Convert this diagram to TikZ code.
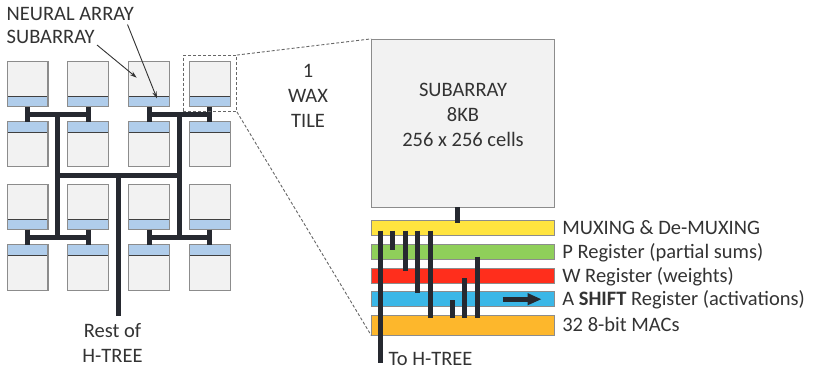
\documentclass[tikz,border=0pt]{standalone}
\usepackage{fontspec}
\setmainfont{Carlito}
\usetikzlibrary{arrows.meta}
\definecolor{tilefill}{HTML}{F2F2F2}
\definecolor{tileedge}{HTML}{8C8C8C}
\definecolor{bandfill}{HTML}{B0CDEB}
\definecolor{wire}{HTML}{262930}
\definecolor{txt}{HTML}{333333}
\definecolor{cmux}{HTML}{FFE43F}
\definecolor{cpreg}{HTML}{8FCF5A}
\definecolor{cwreg}{HTML}{FF2E1C}
\definecolor{careg}{HTML}{3BB7E7}
\definecolor{cmac}{HTML}{FDB72C}
\begin{document}
\begin{tikzpicture}[x=1pt,y=-1pt,
  every node/.style={text=txt},
  lbl/.style={font=\fontsize{20.5}{25}\selectfont, inner sep=0pt},
  tile/.style={fill=tilefill, minimum width=40.5pt, minimum height=45pt, inner sep=0pt},
  tileb/.style={draw=tileedge, line width=1.1pt},
  sepline/.style={draw=black!75, line width=0.9pt},
  htree/.style={draw=wire, line width=5pt},
  regwire/.style={draw=wire, line width=5pt},
  bar/.style={draw=tileedge, line width=0.9pt, minimum width=182.6pt, inner sep=0pt},
  dashbox/.style={draw=black!60, dash pattern=on 3pt off 2pt, line width=0.9pt, inner sep=0pt},
  pointer/.style={draw=black!80, line width=0.9pt, -{Stealth[length=7pt,width=4.5pt]}}
]
\useasboundingbox (0,0) rectangle (814,370);

% ---------- left grid of tiles ----------
\foreach \c/\x in {1/27.55,2/88.25,3/149.25,4/209.75}{
  % rows with band at the bottom
  \foreach \r/\y in {1/84.2,3/207}{
    \node[tile] (t\r\c) at (\x,\y) {};
    \fill[bandfill] (t\r\c.south west) rectangle ([yshift=10.5pt]t\r\c.south east);
    \draw[sepline] ([yshift=10.5pt]t\r\c.south west) -- ([yshift=10.5pt]t\r\c.south east);
    \draw[tileb] (t\r\c.south west) rectangle (t\r\c.north east);
  }
  % rows with band at the top
  \foreach \r/\y in {2/144.2,4/267.5}{
    \node[tile] (t\r\c) at (\x,\y) {};
    \fill[bandfill] (t\r\c.north west) rectangle ([yshift=-10.5pt]t\r\c.north east);
    \draw[sepline] ([yshift=-10.5pt]t\r\c.north west) -- ([yshift=-10.5pt]t\r\c.north east);
    \draw[tileb] (t\r\c.south west) rectangle (t\r\c.north east);
  }
}

% ---------- H-tree ----------
\draw[htree] (t11.south) -- coordinate (a1) (t21.north);
\draw[htree] (t12.south) -- coordinate (a2) (t22.north);
\draw[htree] (t13.south) -- coordinate (a3) (t23.north);
\draw[htree] (t14.south) -- coordinate (a4) (t24.north);
\draw[htree] (t31.south) -- coordinate (b1) (t41.north);
\draw[htree] (t32.south) -- coordinate (b2) (t42.north);
\draw[htree] (t33.south) -- coordinate (b3) (t43.north);
\draw[htree] (t34.south) -- coordinate (b4) (t44.north);
\draw[htree] (a1) -- coordinate (j1) (a2);
\draw[htree] (a3) -- coordinate (j2) (a4);
\draw[htree] (b1) -- coordinate (k1) (b2);
\draw[htree] (b3) -- coordinate (k2) (b4);
\path (t22.south) -- coordinate (m) (t32.north);
\draw[htree] (j1) -- (j1 |- k1);
\draw[htree] (j2) -- (j2 |- k2);
\draw[htree] (j1 |- m) -- coordinate (c) (j2 |- m);
\coordinate (rest) at (118.5,316);
\draw[htree] (c) -- (c |- rest);

% ---------- labels on the left ----------
\node[lbl, anchor=base west] (lab1) at (6.5,20.7) {NEURAL ARRAY};
\node[lbl, anchor=base west] (lab2) at (6.5,43.3) {SUBARRAY};
\coordinate (p1) at (127.5,24.5);
\coordinate (p2) at (97,45);
\draw[pointer] (p1) -- (157,98.5);
\draw[pointer] (p2) -- (136.7,77.7);
\node[lbl, align=center] (rest-lbl) at (112.5,343) {Rest of\\H-TREE};

% ---------- WAX tile marker ----------
\node[dashbox, minimum width=53.5pt, minimum height=56pt] (wax) at (209.75,83.5) {};
\node[lbl, align=center] (waxlbl) at (308,96.2) {1\\WAX\\TILE};

% ---------- zoomed subarray ----------
\node[bar, fill=tilefill, minimum height=168pt] (sub) at (463,123.3) {};
\node[lbl, align=center] (subtxt) at (463,114.5) {SUBARRAY\\8KB\\256 x 256 cells};

\node[bar, fill=cmux,  minimum height=14.3pt] (mux)  at (463,227.85) {};
\node[bar, fill=cpreg, minimum height=15.3pt] (preg) at (463,251.65) {};
\node[bar, fill=cwreg, minimum height=15pt]   (wreg) at (463,275.8) {};
\node[bar, fill=careg, minimum height=15pt]   (areg) at (463,299.2) {};
\node[bar, fill=cmac,  minimum height=20pt]   (mac)  at (463,325) {};

\draw[dashbox] (wax.north east) -- (sub.north west);
\draw[dashbox] (wax.south east) -- (mac.south west);

% connection subarray -> mux
\draw[regwire] (457.5,207) -- (457.5,223.3);

% register wires
\coordinate (toht) at (380.7,363.3);
\draw[regwire] (380.7,230.7) -- (toht);
\draw[regwire] (392.3,230.7) -- (392.3,250);
\draw[regwire] (405.3,230.7) -- (405.3,271);
\draw[regwire] (417.7,230.7) -- (417.7,293.3);
\draw[regwire] (430.7,230.7) -- (430.7,318.3);
\draw[regwire] (452.3,300)   -- (452.3,318.3);
\draw[regwire] (464.3,278.3) -- (464.3,318.3);
\draw[regwire] (477.3,256.7) -- (477.3,318.3);
\node[lbl, anchor=base west] (tohlbl) at (388.5,365.5) {To H-TREE};

% shift arrow
\draw[draw=wire, line width=5pt, -{Triangle[length=14pt,width=11pt]}] (502.7,299.2) -- (541.7,299.2);

% ---------- bar labels ----------
\node[lbl, anchor=base west] at ([xshift=7.4pt,yshift=-6.6pt]mux.east)  {MUXING \& De-MUXING};
\node[lbl, anchor=base west] at ([xshift=7.4pt,yshift=-6.6pt]preg.east) {P Register (partial sums)};
\node[lbl, anchor=base west] at ([xshift=7.4pt,yshift=-6.6pt]wreg.east) {W Register (weights)};
\node[lbl, anchor=base west] at ([xshift=7.4pt,yshift=-6.6pt]areg.east) {A \textbf{SHIFT} Register (activations)};
\node[lbl, anchor=base west] at ([xshift=7.4pt,yshift=-6.6pt]mac.east)  {32 8-bit MACs};
\end{tikzpicture}
\end{document}
